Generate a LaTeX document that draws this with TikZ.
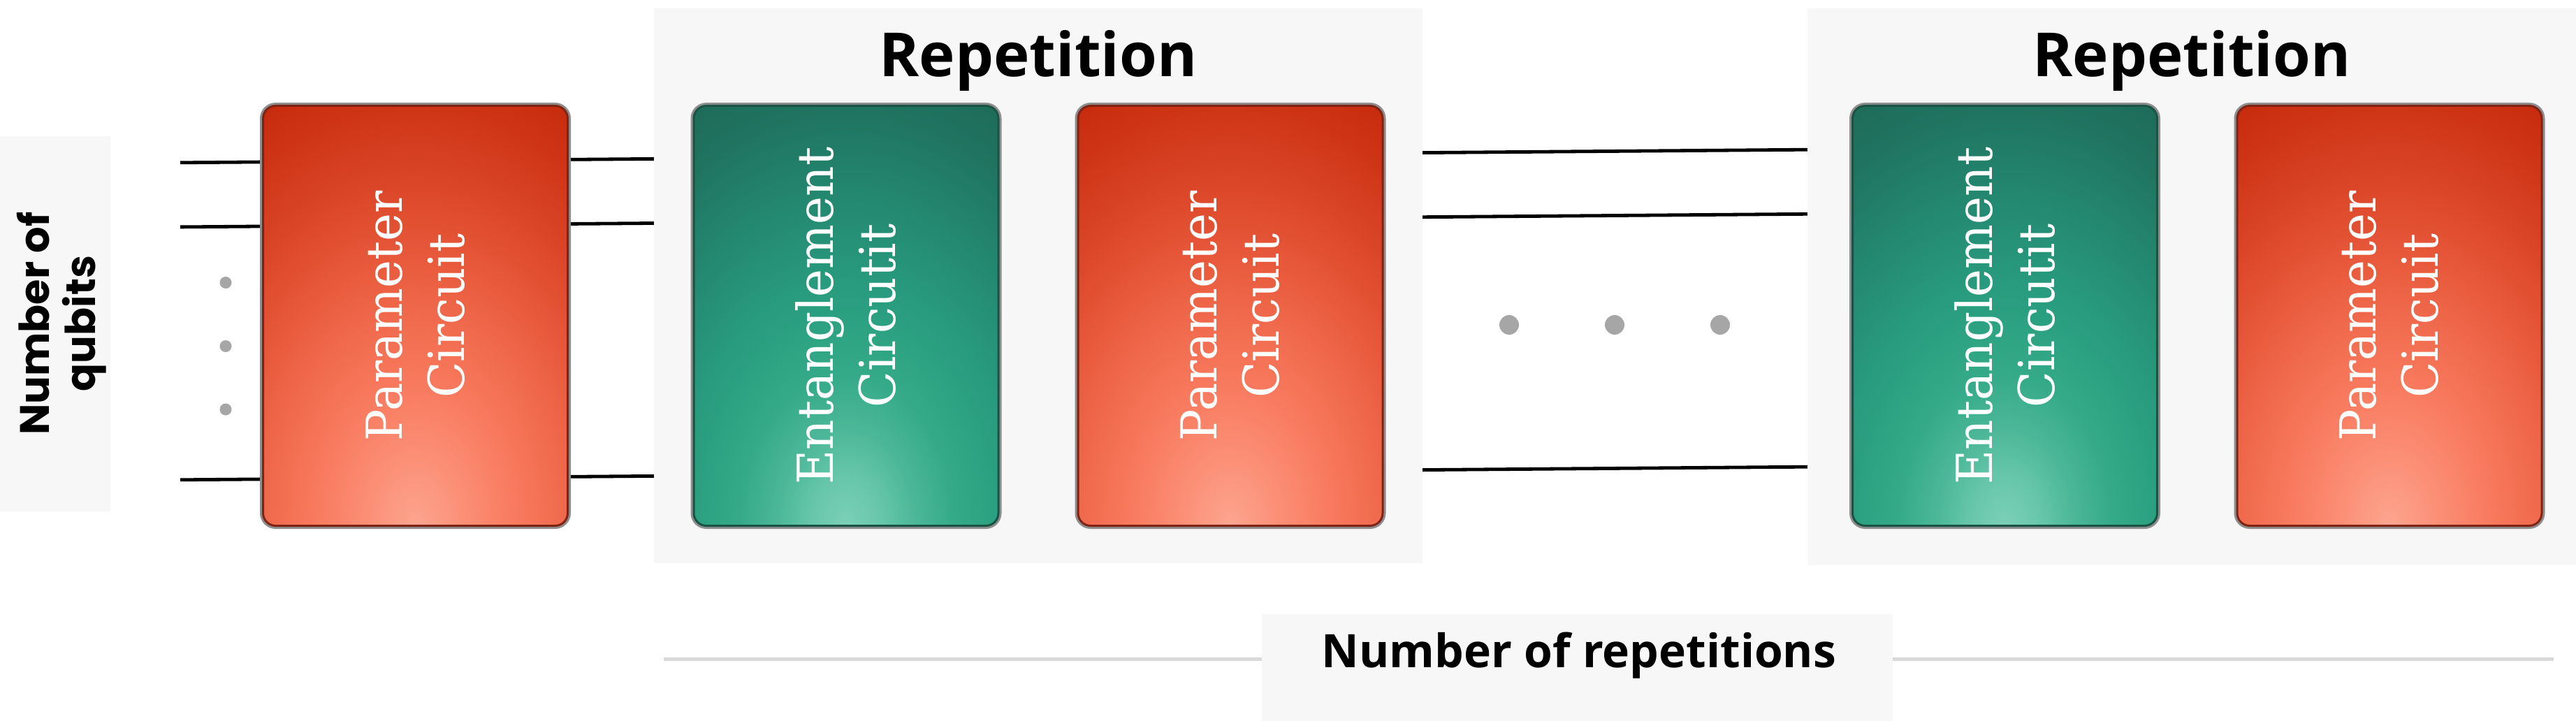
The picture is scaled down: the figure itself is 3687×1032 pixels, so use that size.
\documentclass[tikz,border=0pt]{standalone}
\usepackage{fontspec}
\newfontfamily\titlefont{Open Sans}
\newfontfamily\qubitfont{Poppins}
\newfontfamily\boxfont[FakeStretch=0.95]{DejaVu Serif}
\definecolor{panel}{HTML}{F7F7F7}
\definecolor{dotgray}{HTML}{A6A6A6}
\definecolor{rulegray}{HTML}{D9D9D9}
\definecolor{boxrim}{HTML}{8E8E8E}
\definecolor{reddark}{HTML}{7F2414}
\definecolor{greendark}{HTML}{1A5244}
\definecolor{rgA}{HTML}{FDA590}
\definecolor{rgB}{HTML}{FB9077}
\definecolor{rgC}{HTML}{F87A5E}
\definecolor{rgD}{HTML}{F06A4D}
\definecolor{rgE}{HTML}{E75739}
\definecolor{rgF}{HTML}{DB4628}
\definecolor{rgG}{HTML}{CE3516}
\definecolor{rgH}{HTML}{C52A0B}
\definecolor{ggA}{HTML}{7BD0B6}
\definecolor{ggB}{HTML}{68C7AB}
\definecolor{ggC}{HTML}{4DB899}
\definecolor{ggD}{HTML}{34AA88}
\definecolor{ggE}{HTML}{2BA181}
\definecolor{ggF}{HTML}{27967B}
\definecolor{ggG}{HTML}{23856E}
\definecolor{ggH}{HTML}{1F735F}
\definecolor{ggI}{HTML}{1E6B59}
\pgfdeclareradialshading{redglow}{\pgfpoint{0bp}{0bp}}{color(0bp)=(rgA); color(3.5bp)=(rgB); color(7.5bp)=(rgC); color(11bp)=(rgD); color(14.5bp)=(rgE); color(18bp)=(rgF); color(22bp)=(rgG); color(25bp)=(rgH); color(50bp)=(rgH)}
\pgfdeclareradialshading{greenglow}{\pgfpoint{0bp}{0bp}}{color(0bp)=(ggA); color(2.5bp)=(ggB); color(5bp)=(ggC); color(8bp)=(ggD); color(11bp)=(ggE); color(14bp)=(ggF); color(18bp)=(ggG); color(22bp)=(ggH); color(25bp)=(ggI); color(50bp)=(ggI)}
\tikzset{
  panelbox/.style={fill=panel, draw=none, inner sep=0pt},
  circbox/.style={rounded corners=18pt, minimum width=436pt, minimum height=601pt, inner sep=0pt,
    preaction={draw=boxrim, line width=9pt}, line width=3pt},
  redbox/.style={circbox, draw=reddark, fill=rgH,
    path picture={\shade[shading=redglow] (path picture bounding box.south) ellipse [x radius=480pt, y radius=680pt];}},
  greenbox/.style={circbox, draw=greendark, fill=ggI,
    path picture={\shade[shading=greenglow] (path picture bounding box.south) ellipse [x radius=480pt, y radius=680pt];}},
  boxtext/.style={rotate=90, align=center, text=white, inner sep=0pt, font=\boxfont\fontsize{71}{89}\selectfont},
  wire/.style={draw=black, line width=4.8pt},
  smalldot/.style={circle, fill=dotgray, minimum size=17pt, inner sep=0pt},
  bigdot/.style={circle, fill=dotgray, minimum size=28pt, inner sep=0pt},
  titletext/.style={font=\titlefont\bfseries\fontsize{87}{100}\selectfont, inner sep=0pt, anchor=base},
}
\begin{document}
\begin{tikzpicture}[x=1pt,y=-1pt]
\useasboundingbox (0,0) rectangle (3687,1032);
\fill[white] (0,0) rectangle (3687,1032);

% wires
\coordinate (qin1) at (258,232.8);
\coordinate (qin2) at (258,324.9);
\coordinate (qin3) at (258,686.8);
\coordinate (qend1) at (2587,214.2);
\coordinate (qend2) at (2587,306.3);
\coordinate (qend3) at (2587,668.2);
\draw[wire] (qin1) -- (qend1);
\draw[wire] (qin2) -- (qend2);
\draw[wire] (qin3) -- (qend3);

% panels
\node[panelbox, minimum width=158pt, minimum height=537pt] (qpanel) at (79,463.5) {};
\node[panelbox, minimum width=1100pt, minimum height=794pt] (rep1) at (1486,409) {};
\node[panelbox, minimum width=1100pt, minimum height=797pt] (rep2) at (3137,410.5) {};

% qubit label
\node[rotate=90, align=center, inner sep=0pt, font=\qubitfont\bfseries\fontsize{59}{66}\selectfont] (qlabel) at (88,463) {Number of\\qubits};

% dots
\node[smalldot] (d1) at (323,404.5) {};
\node[smalldot] (d2) at (323,495.5) {};
\node[smalldot] (d3) at (323,586) {};
\node[bigdot] (m1) at (2160,465) {};
\node[bigdot] (m2) at (2311,465) {};
\node[bigdot] (m3) at (2462,465) {};

% circuit boxes
\node[redbox] (pc1) at (594.5,452) {};
\node[greenbox] (ec1) at (1211,452) {};
\node[redbox] (pc2) at (1761,452) {};
\node[greenbox] (ec2) at (2869.5,452) {};
\node[redbox] (pc3) at (3420,452) {};

\node[boxtext] (pc1t) at (pc1) {Parameter\\Circuit};
\node[boxtext] (ec1t) at (ec1) {Entanglement\\Circutit};
\node[boxtext] (pc2t) at (pc2) {Parameter\\Circuit};
\node[boxtext] (ec2t) at (ec2) {Entanglement\\Circutit};
\node[boxtext] (pc3t) at (pc3) {Parameter\\Circuit};

% titles
\node[titletext] (rep1title) at (1486,110) {Repetition};
\node[titletext] (rep2title) at (3137,110) {Repetition};

% bottom rule and label
\coordinate (ruleL) at (950,943);
\coordinate (ruleR) at (3655,943);
\draw[rulegray, line width=5pt] (ruleL) -- (ruleR);
\node[panelbox, minimum width=903pt, minimum height=153pt] (nrbox) at (2257.5,955.5) {};
\node[font=\titlefont\bfseries\fontsize{66}{76}\selectfont, inner sep=0pt, anchor=base] (nrtext) at (2260,955) {Number of repetitions};
\end{tikzpicture}
\end{document}
